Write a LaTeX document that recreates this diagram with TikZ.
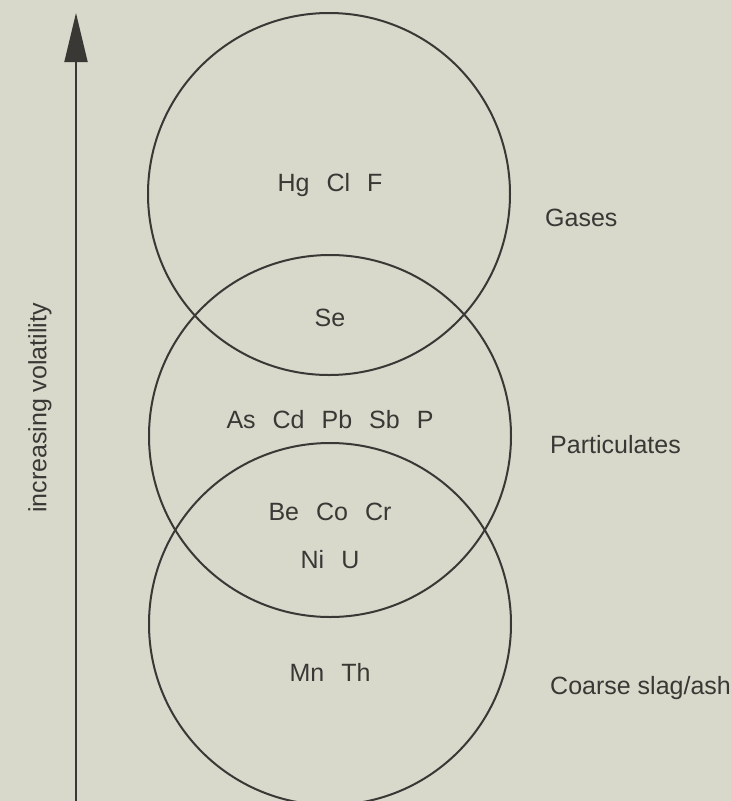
\documentclass[tikz,border=0pt]{standalone}
\usepackage{fontspec}
\setmainfont{Liberation Sans}
\usetikzlibrary{arrows.meta}
\definecolor{bgc}{RGB}{216,216,203}
\definecolor{ink}{RGB}{58,56,53}
\newcommand{\elgap}{\hspace{17pt}}
\begin{document}
\begin{tikzpicture}[x=1pt,y=-1pt,
  ring/.style={circle,draw=ink,line width=2pt,minimum size=362pt,inner sep=0pt},
  lbl/.style={text=ink,font=\fontsize{25}{30}\selectfont,inner sep=0pt},
  grp/.style={lbl,anchor=west}]
\fill[bgc] (0,0) rectangle (731,801);
\useasboundingbox (0,0) rectangle (731,801);
% circles
\node[ring] (gas) at (329,194) {};
\node[ring] (part) at (330,436) {};
\node[ring] (slag) at (330,624) {};
% arrow
\coordinate (abot) at (76,805);
\coordinate (atop) at (76,13);
\draw[ink,line width=1.8pt,-{Triangle[length=49pt,width=23pt]}] (abot) -- (atop);
\node[lbl,rotate=90] (vol) at (40,408) {increasing volatility};
% element labels
\node[lbl] (hg) at (330,185) {Hg\elgap Cl\elgap F};
\node[lbl] (se) at (330,318) {Se};
\node[lbl] (as) at (330,420) {As\elgap Cd\elgap Pb\elgap Sb\elgap P};
\node[lbl] (be) at (330,512) {Be\elgap Co\elgap Cr};
\node[lbl] (ni) at (330,560) {Ni\elgap U};
\node[lbl] (mn) at (330,672) {Mn\elgap Th};
% group labels
\node[grp] (gases) at (545,218) {Gases};
\node[grp] (parts) at (550,445) {Particulates};
\node[grp] (coarse) at (550,688) {Coarse slag/ash};
\end{tikzpicture}
\end{document}
